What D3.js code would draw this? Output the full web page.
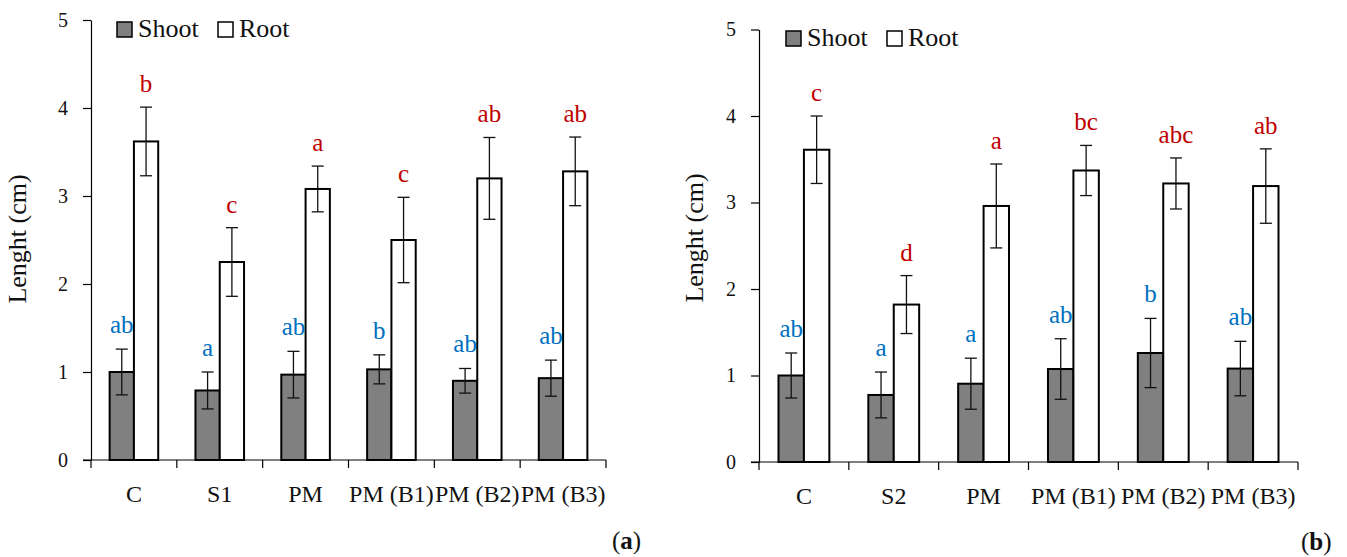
<!DOCTYPE html>
<html>
<head>
<meta charset="utf-8">
<script src="https://cdn.jsdelivr.net/npm/d3@7"></script>
<style>
  html, body { margin: 0; padding: 0; background: #fff; }
  svg { display: block; font-family: "Liberation Serif", "Times New Roman", serif; }
  svg text { font-family: "Liberation Serif", "Times New Roman", serif; }
</style>
</head>
<body>
<svg id="chart" width="1347" height="557"></svg>
<script>
// ---- data ----
const categoriesA = ["C", "S1", "PM", "PM (B1)", "PM (B2)", "PM (B3)"];
const shootA = [1.00, 0.79, 0.97, 1.03, 0.90, 0.93];
const shootErrA = [0.26, 0.21, 0.265, 0.165, 0.14, 0.205];
const rootA = [3.62, 2.25, 3.08, 2.50, 3.20, 3.28];
const rootErrA = [0.39, 0.39, 0.26, 0.485, 0.465, 0.39];
const shootLettersA = ["ab", "a", "ab", "b", "ab", "ab"];
const rootLettersA = ["b", "c", "a", "c", "ab", "ab"];

const categoriesB = ["C", "S2", "PM", "PM (B1)", "PM (B2)", "PM (B3)"];
const shootB = [1.00, 0.775, 0.905, 1.075, 1.26, 1.08];
const shootErrB = [0.26, 0.265, 0.295, 0.35, 0.40, 0.315];
const rootB = [3.61, 1.82, 2.96, 3.37, 3.22, 3.19];
const rootErrB = [0.39, 0.335, 0.485, 0.29, 0.295, 0.43];
const shootLettersB = ["ab", "a", "a", "ab", "b", "ab"];
const rootLettersB = ["c", "d", "a", "bc", "abc", "ab"];

const yTicks = [0, 1, 2, 3, 4, 5];
const seriesNames = ["Shoot", "Root"];
const yLabel = "Lenght (cm)";

// ---- styles ----
const shootFill = "#808080";
const rootFill = "#ffffff";
const red = "#c00000";
const blue = "#0070c0";

const svg = d3.select("#chart");

function panel(cfg) {
  const g = svg.append("g");
  const y = d3.scaleLinear().domain([0, 5]).range([cfg.y0, cfg.y5]);
  const x = d3.scaleBand().domain(cfg.categories).range([cfg.left, cfg.right]).padding(0);
  const bw = x.bandwidth() * 0.283;
  const cx = c => x(c) + x.bandwidth() / 2;

  // y axis
  const yAxis = d3.axisLeft(y).tickValues(yTicks).tickSize(8).tickSizeOuter(0).tickPadding(15)
    .tickFormat(d3.format("d"));
  const ya = g.append("g").attr("transform", `translate(${cfg.left},0)`).call(yAxis)
    .attr("font-family", null);
  ya.select(".domain").attr("stroke", "#000").attr("stroke-width", 1.2);
  ya.selectAll(".tick line").attr("stroke", "#000").attr("stroke-width", 1.2);
  ya.selectAll(".tick text").attr("font-size", 20).attr("fill", "#111");

  // x axis line and boundary ticks
  g.append("line").attr("x1", cfg.left - 8).attr("x2", cfg.right)
    .attr("y1", y(0)).attr("y2", y(0)).attr("stroke", "#000").attr("stroke-width", 1.2);
  const edges = cfg.categories.map(c => x(c)).concat([x(cfg.categories[cfg.categories.length - 1]) + x.bandwidth()]);
  g.selectAll(".xtick").data(edges).join("line")
    .attr("x1", d => d).attr("x2", d => d)
    .attr("y1", y(0)).attr("y2", y(0) + 8)
    .attr("stroke", "#000").attr("stroke-width", 1.2);
  g.selectAll(".xlab").data(cfg.categories).join("text")
    .attr("x", d => cx(d)).attr("y", y(0) + 42)
    .attr("text-anchor", "middle").attr("font-size", 24).attr("fill", "#111")
    .text(d => d);

  // bars
  const rows = cfg.categories.map((c, i) => ({
    c, shoot: cfg.shoot[i], se: cfg.shootErr[i], root: cfg.root[i], re: cfg.rootErr[i],
    sl: cfg.shootLetters[i], rl: cfg.rootLetters[i]
  }));

  g.selectAll(".shoot").data(rows).join("rect")
    .attr("x", d => cx(d.c) - bw).attr("width", bw)
    .attr("y", d => y(d.shoot)).attr("height", d => y(0) - y(d.shoot))
    .attr("fill", shootFill).attr("stroke", "#000").attr("stroke-width", 2);
  g.selectAll(".root").data(rows).join("rect")
    .attr("x", d => cx(d.c)).attr("width", bw)
    .attr("y", d => y(d.root)).attr("height", d => y(0) - y(d.root))
    .attr("fill", rootFill).attr("stroke", "#000").attr("stroke-width", 2);

  // error bars
  function errBars(key, errKey, off) {
    const eg = g.append("g").attr("stroke", "#111").attr("stroke-width", 1.3);
    rows.forEach(d => {
      const xc = cx(d.c) + off;
      const top = y(d[key] + d[errKey]), bot = y(d[key] - d[errKey]);
      eg.append("line").attr("x1", xc).attr("x2", xc).attr("y1", top).attr("y2", bot);
      eg.append("line").attr("x1", xc - 6).attr("x2", xc + 6).attr("y1", top).attr("y2", top);
      eg.append("line").attr("x1", xc - 6).attr("x2", xc + 6).attr("y1", bot).attr("y2", bot);
    });
  }
  errBars("shoot", "se", -bw / 2);
  errBars("root", "re", bw / 2);

  // letters
  g.selectAll(".sl").data(rows).join("text")
    .attr("x", d => cx(d.c) - bw / 2).attr("y", d => y(d.shoot + d.se) - 16)
    .attr("text-anchor", "middle").attr("font-size", 25).attr("fill", blue)
    .text(d => d.sl);
  g.selectAll(".rl").data(rows).join("text")
    .attr("x", d => cx(d.c) + bw / 2).attr("y", d => y(d.root + d.re) - 15)
    .attr("text-anchor", "middle").attr("font-size", 25).attr("fill", red)
    .text(d => d.rl);

  // legend
  const lg = g.append("g");
  const lx = cfg.legendX, ly = cfg.legendY;
  [[seriesNames[0], shootFill, 0], [seriesNames[1], rootFill, 101]].forEach(([name, fill, dx]) => {
    lg.append("rect").attr("x", lx + dx).attr("y", ly - 15).attr("width", 15).attr("height", 15)
      .attr("fill", fill).attr("stroke", "#000").attr("stroke-width", 1.5);
    lg.append("text").attr("x", lx + dx + 21).attr("y", ly).attr("font-size", 26).attr("fill", "#111").text(name);
  });

  // y label
  g.append("text")
    .attr("transform", `translate(${cfg.yLabelX},${cfg.yLabelY}) rotate(-90)`)
    .attr("text-anchor", "middle").attr("font-size", 26).attr("fill", "#111")
    .text(yLabel);

  // panel tag
  const t = g.append("text").attr("x", cfg.tagX).attr("y", cfg.tagY).attr("font-size", 25).attr("fill", "#111");
  t.append("tspan").text("(");
  t.append("tspan").attr("font-weight", "bold").text(cfg.tag);
  t.append("tspan").text(")");
}

panel({
  categories: categoriesA, shoot: shootA, shootErr: shootErrA, root: rootA, rootErr: rootErrA,
  shootLetters: shootLettersA, rootLetters: rootLettersA,
  left: 91, right: 606, y0: 460, y5: 20,
  legendX: 117, legendY: 37, yLabelX: 26, yLabelY: 239,
  tag: "a", tagX: 612, tagY: 549
});
panel({
  categories: categoriesB, shoot: shootB, shootErr: shootErrB, root: rootB, rootErr: rootErrB,
  shootLetters: shootLettersB, rootLetters: rootLettersB,
  left: 759, right: 1298, y0: 462, y5: 29.5,
  legendX: 786, legendY: 46, yLabelX: 703, yLabelY: 238,
  tag: "b", tagX: 1301, tagY: 550
});
</script>
</body>
</html>
